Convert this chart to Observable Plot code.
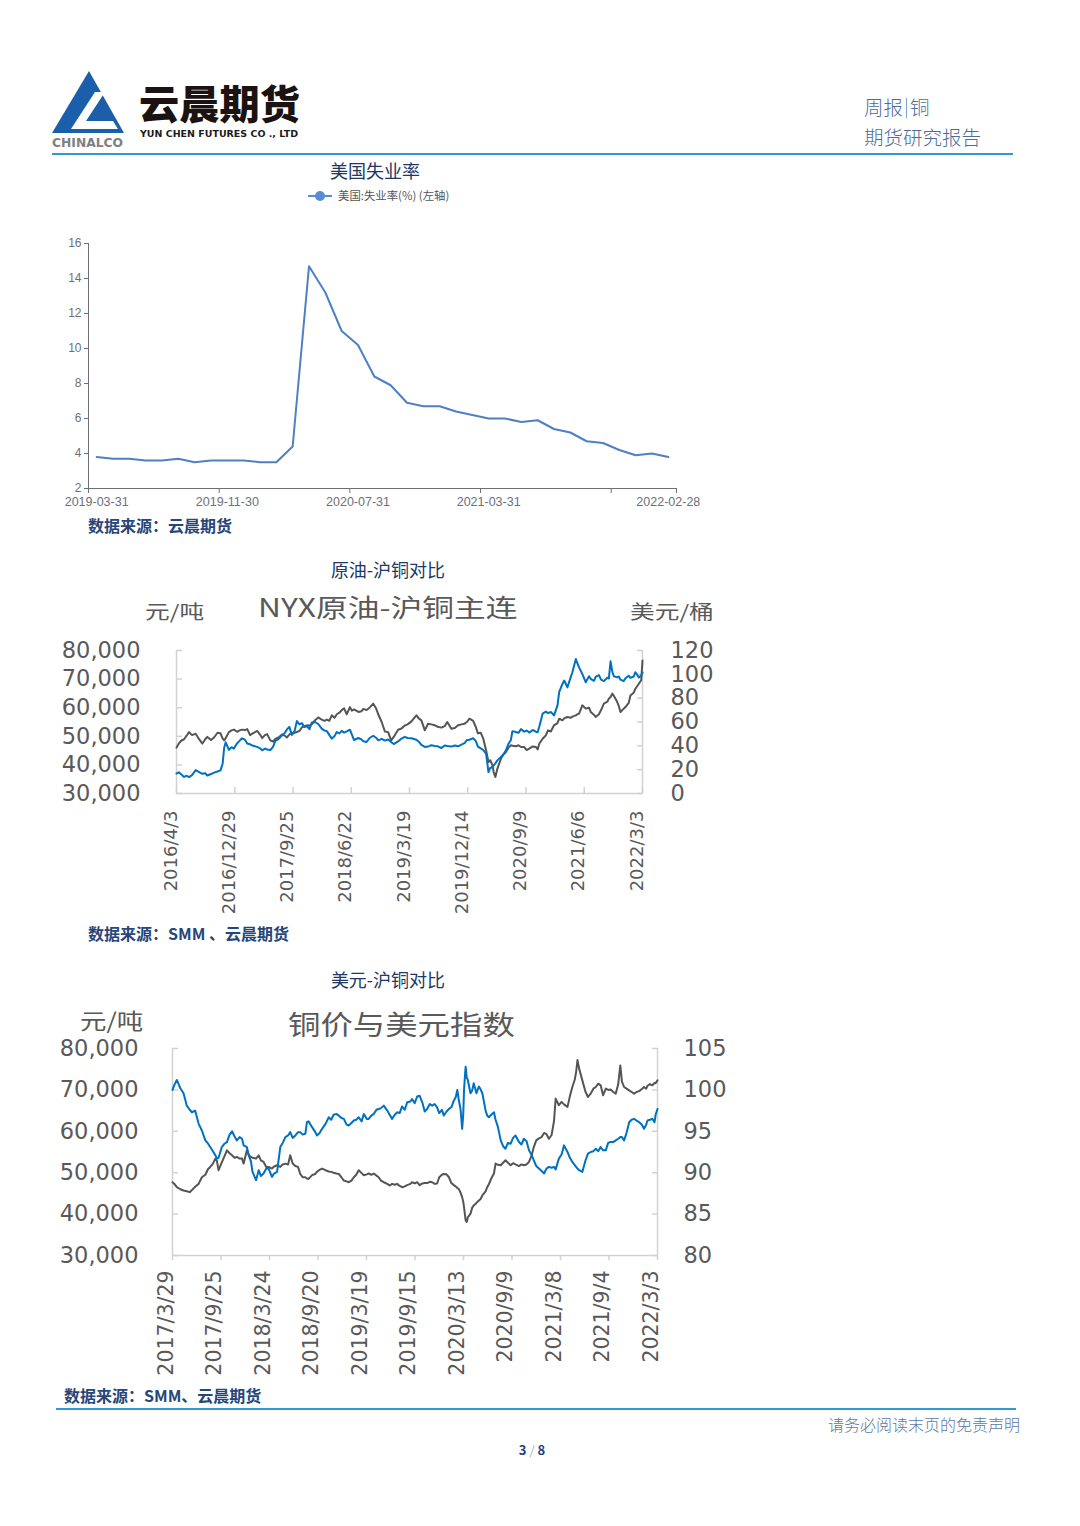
<!DOCTYPE html>
<html><head><meta charset="utf-8">
<script src="https://cdn.jsdelivr.net/npm/d3@7"></script>
<script src="https://cdn.jsdelivr.net/npm/@observablehq/plot@0.6"></script>
<style>
html,body{margin:0;padding:0;background:#fff;}
#page{position:relative;width:1080px;height:1526px;overflow:hidden;font-family:"Noto Sans CJK SC","Noto Sans",sans-serif;background:#fff;}
.a{position:absolute;white-space:nowrap;line-height:1;z-index:2;}
.plot{position:absolute;left:0;z-index:1;}
.ttl{color:#203864;font-size:18px;text-align:center;width:300px;}
.src{color:#26467a;font-size:16px;font-weight:700;}
.gt{color:#595959;transform-origin:left top;}
.rule{position:absolute;height:2px;background:#3399d6;z-index:2;}
</style></head><body><div id="page">
<svg class="a" style="left:0;top:0" width="1080" height="160">
 <polygon points="89,71 124,133 52,133" fill="#1b5fab"/>
 <polygon points="95,92 105,92 86,121 113,121 118,129 71,129" fill="#fff"/>
 <text x="52" y="147" textLength="71" lengthAdjust="spacingAndGlyphs" font-family="DejaVu Sans" font-weight="bold" font-size="12" fill="#808080">CHINALCO</text>
 <text x="139" y="119" textLength="161" lengthAdjust="spacingAndGlyphs" font-family="Noto Sans CJK SC" font-weight="900" font-size="40" fill="#1a1311">云晨期货</text>
 <text x="140" y="137" textLength="158" lengthAdjust="spacingAndGlyphs" font-family="DejaVu Sans" font-weight="bold" font-size="9.5" fill="#1a1a1a">YUN CHEN FUTURES CO ., LTD</text>
</svg>
<div class="rule" style="left:52px;top:153px;width:961px"></div>
<div class="rule" style="left:56px;top:1408px;width:960px"></div>
<div class="a" style="left:864px;top:97px;font-size:19.5px;color:#4d6c99;font-weight:300">周报<span style="display:inline-block;width:1px;height:20px;background:#7aa0d0;margin:0 3px;vertical-align:-3px"></span>铜</div>
<div class="a" style="left:864px;top:127px;font-size:19.5px;color:#4d6c99;font-weight:300">期货研究报告</div>

<div class="a ttl" style="left:225px;top:161px;">美国失业率</div>
<svg class="a" style="left:307px;top:190px" width="26" height="12"><line x1="1" y1="6" x2="25" y2="6" stroke="#5b8bd0" stroke-width="2"/><circle cx="13" cy="6" r="5" fill="#5b8bd0"/></svg>
<div class="a" style="left:338px;top:190px;font-size:11.4px;color:#555">美国:失业率(%) (左轴)</div>
<div class="a src" style="left:88px;top:517px;">数据来源：云晨期货</div>

<div class="a ttl" style="left:238px;top:560px;">原油-沪铜对比</div>
<div class="a gt" style="left:145px;top:601px;font-size:19px;transform:scaleX(1.3)">元/吨</div>
<div class="a gt" style="left:258px;top:594px;font-size:25px;transform:scaleX(1.27)">NYX原油-沪铜主连</div>
<div class="a gt" style="left:630px;top:601px;font-size:19px;transform:scaleX(1.3)">美元/桶</div>
<div class="a src" style="left:88px;top:925px;">数据来源：SMM 、云晨期货</div>

<div class="a ttl" style="left:238px;top:970px;">美元-沪铜对比</div>
<div class="a gt" style="left:80px;top:1008px;font-size:22px;transform:scaleX(1.2)">元/吨</div>
<div class="a gt" style="left:288px;top:1010px;font-size:27px;transform:scaleX(1.2)">铜价与美元指数</div>
<div class="a src" style="left:64px;top:1387px;">数据来源：SMM、云晨期货</div>

<div class="a" style="left:720px;width:300px;text-align:right;top:1416px;font-size:16px;color:#5a79a5;font-weight:300">请务必阅读末页的免责声明</div>
<div class="a" style="left:482px;width:100px;text-align:center;top:1443px;font-size:13px;color:#1f3f7f;font-weight:700">3 <span style="font-weight:300;color:#7f8fb0">/</span> 8</div>

<div id="c1" class="plot" style="top:230px"></div>
<div id="c2" class="plot" style="top:600px"></div>
<div id="c3" class="plot" style="top:1000px"></div>
</div>
<script>
// ---------- Chart 1: US unemployment rate ----------
const c1Dates = ["2019-03-31","2019-04-30","2019-05-31","2019-06-30","2019-07-31","2019-08-31","2019-09-30","2019-10-31","2019-11-30","2019-12-31",
"2020-01-31","2020-02-29","2020-03-31","2020-04-30","2020-05-31","2020-06-30","2020-07-31","2020-08-31","2020-09-30","2020-10-31","2020-11-30","2020-12-31",
"2021-01-31","2021-02-28","2021-03-31","2021-04-30","2021-05-31","2021-06-30","2021-07-31","2021-08-31","2021-09-30","2021-10-31","2021-11-30","2021-12-31",
"2022-01-31","2022-02-28"];
const c1Values = [3.8,3.7,3.7,3.6,3.6,3.7,3.5,3.6,3.6,3.6,
3.5,3.5,4.4,14.7,13.2,11.0,10.2,8.4,7.9,6.9,6.7,6.7,
6.4,6.2,6.0,6.0,5.8,5.9,5.4,5.2,4.7,4.6,4.2,3.9,
4.0,3.8];
const c1YTicks = [2,4,6,8,10,12,14,16];
const c1XLabels = ["2019-03-31","2019-11-30","2020-07-31","2021-03-31","2022-02-28"];

// ---------- Chart 2: NYX crude oil vs SHFE copper ----------
const c2Dates = ["2016-04-03","2016-04-14","2016-04-26","2016-05-08","2016-05-20","2016-05-31","2016-06-14","2016-07-01","2016-07-15","2016-08-01",
"2016-08-14","2016-08-24","2016-09-10","2016-09-24","2016-10-10","2016-10-24","2016-11-03","2016-11-10","2016-11-17","2016-12-02",
"2016-12-14","2016-12-25","2017-01-09","2017-01-20","2017-02-01","2017-02-14","2017-02-25","2017-03-10","2017-03-20","2017-04-12",
"2017-04-25","2017-05-05","2017-05-18","2017-05-28","2017-06-12","2017-06-25","2017-07-05","2017-07-20","2017-08-05","2017-08-18",
"2017-08-28","2017-09-08","2017-09-20","2017-10-02","2017-10-13","2017-10-25","2017-11-05","2017-11-17","2017-11-28","2017-12-10",
"2017-12-21","2018-01-05","2018-01-20","2018-02-05","2018-02-18","2018-03-01","2018-03-12","2018-03-24","2018-04-05","2018-04-16",
"2018-04-28","2018-05-09","2018-05-20","2018-06-01","2018-06-16","2018-06-25","2018-07-05","2018-07-25","2018-08-08","2018-08-17",
"2018-09-01","2018-09-15","2018-10-02","2018-10-15","2018-10-25","2018-11-10","2018-11-25","2018-12-10","2018-12-24","2019-01-05",
"2019-01-25","2019-02-10","2019-02-25","2019-03-10","2019-03-28","2019-04-20","2019-05-01","2019-05-13","2019-05-29","2019-06-13",
"2019-06-28","2019-07-14","2019-07-28","2019-08-14","2019-08-29","2019-09-10","2019-09-29","2019-10-15","2019-10-30","2019-11-15",
"2019-11-29","2019-12-10","2019-12-22","2020-01-08","2020-01-20","2020-01-30","2020-02-12","2020-02-24","2020-03-08","2020-03-19",
"2020-03-27","2020-04-06","2020-04-12","2020-04-20","2020-04-28","2020-05-16","2020-05-28","2020-06-08","2020-06-20","2020-07-01",
"2020-07-08","2020-07-24","2020-08-05","2020-08-17","2020-09-01","2020-09-12","2020-09-24","2020-10-10","2020-10-25","2020-11-02",
"2020-11-10","2020-11-25","2020-12-10","2020-12-20","2021-01-02","2021-01-17","2021-02-02","2021-02-10","2021-02-25","2021-03-05",
"2021-03-20","2021-04-04","2021-04-12","2021-04-28","2021-05-05","2021-05-13","2021-05-28","2021-06-13","2021-06-28","2021-07-06",
"2021-07-21","2021-07-29","2021-08-13","2021-08-23","2021-09-05","2021-09-21","2021-09-28","2021-10-06","2021-10-14","2021-10-21",
"2021-11-06","2021-11-13","2021-11-21","2021-12-06","2021-12-14","2021-12-29","2022-01-06","2022-01-21","2022-01-29","2022-02-06",
"2022-02-14","2022-02-25","2022-03-03"];
const c2Copper = [37000,37400,36600,35800,36200,35700,36400,38200,37600,36900,
37100,36300,36800,37300,37700,38100,40500,46000,47900,45300,
46200,45700,47600,48400,49300,48800,47500,47200,46800,46300,
45800,45100,45700,45400,45200,46400,48400,49000,50300,51200,
52400,53300,50500,51800,55300,54200,54600,53200,53600,52500,
54800,55000,54300,52700,52000,51800,50500,49200,50000,51500,
51000,51900,51300,51700,52300,50600,48700,49400,48900,48300,
48000,49400,50200,49500,48600,49100,48500,48900,48000,47300,
48200,49200,49800,49400,49300,48800,48100,47000,46300,46400,
46900,46600,46500,45900,46800,46600,46400,46800,46500,47100,
47600,48700,48800,49300,48400,46400,45800,45200,43900,37500,
38900,39200,39800,40500,41500,42800,43700,45100,47400,48700,
51800,51500,51200,52500,51600,52000,51300,52200,51600,51400,
53500,57900,58600,58100,58500,57300,60800,65500,68300,69500,
67100,70600,72400,77000,75600,74100,71800,68900,71000,70100,
69400,70800,71400,69800,69300,70500,70200,76200,72600,71000,
70600,70900,69800,69300,70300,71200,70400,70900,72400,71500,
70600,71200,72300];
const c2Oil = [38.5,42.0,44.5,45.5,48.5,51.5,49.0,50.2,46.0,41.9,
45.5,47.5,44.8,47.0,51.0,50.5,46.0,44.6,46.5,51.5,
53.0,53.6,51.8,53.0,53.6,53.2,54.0,49.0,50.2,52.5,
49.5,46.5,49.0,49.8,44.6,43.5,45.8,47.0,49.5,48.5,
47.0,49.5,50.5,51.0,51.6,52.5,55.5,56.5,57.2,57.0,
58.0,61.5,63.8,62.0,61.0,62.0,61.0,65.6,63.5,66.5,
67.8,70.0,71.5,66.5,72.5,69.5,70.5,68.4,69.0,71.0,
70.0,72.0,75.4,71.5,66.5,60.0,52.0,51.5,44.6,47.5,
53.5,54.5,57.0,58.0,60.5,65.6,63.0,61.4,53.0,58.5,
58.0,57.2,56.0,55.3,56.5,60.0,54.4,55.0,57.2,58.0,
58.6,60.0,62.8,61.0,56.0,50.5,51.0,46.0,36.3,26.5,
27.9,24.0,18.0,13.9,20.0,29.3,33.0,34.8,38.5,40.5,
40.0,39.6,40.5,39.0,39.0,36.5,37.7,39.5,39.0,37.0,
41.9,46.0,48.8,53.0,52.0,57.2,59.0,62.8,61.4,63.0,
64.2,63.5,64.5,65.6,66.5,67.0,74.0,71.2,72.0,68.4,
66.0,64.2,66.5,70.0,75.4,77.0,79.6,81.0,83.8,82.0,
76.7,73.5,68.4,71.2,72.5,76.0,82.3,84.5,87.9,90.0,
92.1,95.0,111.6];
const c2LeftTicks = [30000,40000,50000,60000,70000,80000];
const c2RightTicks = [0,20,40,60,80,100,120];
const c2XLabels = ["2016/4/3","2016/12/29","2017/9/25","2018/6/22","2019/3/19","2019/12/14","2020/9/9","2021/6/6","2022/3/3"];

// ---------- Chart 3: copper vs US dollar index ----------
const c3Dates = ["2017-03-29","2017-04-05","2017-04-14","2017-04-27","2017-05-09","2017-05-21","2017-06-01","2017-06-09","2017-06-21","2017-07-04",
"2017-07-16","2017-07-29","2017-08-08","2017-08-16","2017-08-26","2017-09-04","2017-09-10","2017-09-16","2017-09-28","2017-10-08",
"2017-10-17","2017-10-27","2017-11-05","2017-11-14","2017-11-23","2017-12-03","2017-12-12","2017-12-18","2017-12-30","2018-01-06",
"2018-01-14","2018-01-20","2018-02-02","2018-02-12","2018-02-20","2018-03-02","2018-03-12","2018-03-21","2018-04-02","2018-04-10",
"2018-04-21","2018-05-03","2018-05-12","2018-05-22","2018-06-01","2018-06-09","2018-06-18","2018-06-28","2018-07-08","2018-07-16",
"2018-07-25","2018-08-04","2018-08-10","2018-08-16","2018-08-29","2018-09-10","2018-09-16","2018-09-26","2018-10-05","2018-10-18",
"2018-10-30","2018-11-08","2018-11-17","2018-11-27","2018-12-06","2018-12-16","2018-12-25","2019-01-04","2019-01-12","2019-01-22",
"2019-01-31","2019-02-09","2019-02-18","2019-03-01","2019-03-09","2019-03-20","2019-03-27","2019-04-06","2019-04-15","2019-04-25",
"2019-05-03","2019-05-12","2019-05-22","2019-06-04","2019-06-13","2019-06-22","2019-07-02","2019-07-11","2019-07-20","2019-07-29",
"2019-08-08","2019-08-17","2019-08-29","2019-09-04","2019-09-14","2019-09-23","2019-10-02","2019-10-12","2019-10-21","2019-10-30",
"2019-11-09","2019-11-18","2019-11-27","2019-12-06","2019-12-14","2019-12-24","2019-12-31","2020-01-10","2020-01-19","2020-01-28",
"2020-02-06","2020-02-13","2020-02-19","2020-02-24","2020-03-02","2020-03-08","2020-03-12","2020-03-15","2020-03-19","2020-03-21",
"2020-03-25","2020-03-29","2020-04-08","2020-04-14","2020-04-20","2020-04-30","2020-05-09","2020-05-15","2020-05-22","2020-06-03",
"2020-06-09","2020-06-15","2020-06-24","2020-07-04","2020-07-10","2020-07-19","2020-07-29","2020-08-07","2020-08-16","2020-08-25",
"2020-09-04","2020-09-13","2020-09-22","2020-10-05","2020-10-14","2020-10-23","2020-11-02","2020-11-11","2020-11-20","2020-11-29",
"2020-12-08","2020-12-18","2020-12-28","2021-01-06","2021-01-15","2021-01-24","2021-02-03","2021-02-12","2021-02-18","2021-03-02",
"2021-03-12","2021-03-21","2021-04-03","2021-04-12","2021-04-21","2021-04-30","2021-05-05","2021-05-10","2021-05-16","2021-05-28",
"2021-06-09","2021-06-18","2021-06-28","2021-07-08","2021-07-17","2021-07-26","2021-08-04","2021-08-13","2021-08-23","2021-09-01",
"2021-09-10","2021-09-20","2021-09-29","2021-10-08","2021-10-16","2021-10-22","2021-10-30","2021-11-08","2021-11-18","2021-11-27",
"2021-12-06","2021-12-15","2021-12-25","2022-01-04","2022-01-12","2022-01-20","2022-01-25","2022-02-03","2022-02-12","2022-02-20",
"2022-02-24","2022-03-03"];
const c3Copper = [47700,47300,46500,46000,45700,45500,45300,45800,46600,47300,
48900,49500,50900,51400,52200,53400,52800,50600,52500,54000,
55400,54700,54200,53600,53800,53400,53400,52200,55400,54300,
53800,53600,53400,54200,53000,52600,51400,51400,51000,51500,
51800,51400,52000,52200,52000,54200,52200,51600,51400,49700,
48900,48900,48600,48500,49400,49700,50200,50700,51000,50600,
50300,50200,50000,49800,49700,48900,48100,47900,47700,48100,
48900,49500,50600,49900,49400,49600,49800,49500,49800,49300,
48900,48100,47700,47300,46900,47300,47100,47300,46800,46500,
46700,47000,47300,47700,47400,47700,47000,47400,47500,47500,
47800,47700,47300,47400,48900,49500,49700,49600,48900,47500,
47000,46700,46300,46100,45200,44100,43000,41700,39500,38500,
38100,39200,40100,41500,42100,42700,43300,43600,44500,45500,
46500,47200,48600,49800,52200,51900,51800,52400,53000,52400,
51800,52300,52000,51600,52000,51800,52000,52600,54000,56200,
57800,58300,58600,59600,59300,58200,59100,62500,67900,66300,
67100,66500,65900,68500,70700,72500,74300,77200,75200,72300,
69500,68300,69100,70300,70700,71500,71100,68700,70300,70000,
70100,69500,69100,71300,75900,72000,70700,70300,69900,69500,
69100,69500,69700,70200,70700,70300,71000,71400,71100,71700,
71600,72300];
const c3Dxy = [100.0,100.6,101.2,100.2,99.6,98.1,97.6,97.3,97.5,95.9,
95.1,93.9,93.5,93.1,92.6,92.1,91.7,91.8,93.1,93.5,
93.7,94.6,95.0,94.4,93.9,94.3,94.1,93.3,93.1,92.1,
91.4,90.1,89.1,90.3,89.6,89.9,90.5,90.5,89.5,89.9,
90.1,93.1,93.6,94.3,94.5,94.9,94.2,94.5,94.9,94.9,
94.6,94.7,96.1,96.2,95.5,94.9,94.5,94.8,95.3,95.9,
96.7,96.4,97.0,97.1,96.9,96.6,96.5,95.8,95.7,96.0,
96.3,96.4,96.7,96.2,97.1,96.5,96.5,96.9,97.1,97.6,
97.7,97.8,98.1,97.5,97.0,96.5,97.0,97.3,97.2,98.0,
97.6,98.5,98.6,98.9,98.4,99.2,99.3,98.5,97.4,97.7,
98.3,98.1,98.3,97.9,97.2,97.6,96.9,97.4,97.7,97.9,
98.7,99.1,100.0,98.9,97.7,95.3,97.0,100.0,102.0,102.8,
101.5,101.2,99.6,99.9,100.8,99.6,100.4,100.1,99.6,97.5,
96.9,96.7,97.0,97.3,96.4,95.5,93.9,93.2,92.9,93.6,
93.5,94.2,94.5,93.7,93.4,94.1,93.8,92.7,92.2,91.5,
90.8,90.5,90.2,89.9,90.5,90.7,90.6,90.7,90.4,91.7,
92.2,93.3,92.5,91.8,91.3,90.9,90.7,90.5,90.3,90.1,
91.5,92.3,92.5,92.6,92.9,92.6,93.1,92.7,92.7,93.6,
93.7,93.7,93.9,94.1,94.3,94.3,93.9,94.8,96.1,96.4,
96.5,96.3,96.1,95.8,95.3,95.8,96.3,96.4,96.5,96.1,
97.0,97.7];
const c3LeftTicks = [30000,40000,50000,60000,70000,80000];
const c3RightTicks = [80,85,90,95,100,105];
const c3XLabels = ["2017/3/29","2017/9/25","2018/3/24","2018/9/20","2019/3/19","2019/9/15","2020/3/13","2020/9/9","2021/3/8","2021/9/4","2022/3/3"];

// ---------- helpers ----------
const parse = s => { const [y,m,d] = s.split(/[-\/]/).map(Number); return new Date(Date.UTC(y, m-1, d)); };
const fmt = d3.format(",");
const AX = "#d2d2d2", TX = "#595959";

// ---------- Chart 1 render ----------
{
  const data = c1Dates.map((d,i) => ({i, v: c1Values[i]}));
  const n = c1Dates.length;
  const step = c1Dates.indexOf(c1XLabels[1]) - c1Dates.indexOf(c1XLabels[0]);
  const bounds = d3.range(-0.5, n - 1, step).concat([n - 0.5]);
  const plot = Plot.plot({
    width: 1080, height: 290, marginLeft: 88, marginRight: 404, marginTop: 13, marginBottom: 32,
    x: {domain: [-0.5, n - 0.5]},
    y: {domain: [c1YTicks[0], c1YTicks.at(-1)]},
    style: {background: "transparent", fontFamily: "Liberation Sans, Arial, sans-serif", color: "#6e7079"},
    marks: [
      Plot.ruleX([-0.5], {stroke: "#6e7079"}),
      Plot.ruleY([c1YTicks[0]], {stroke: "#6e7079"}),
      Plot.axisY({ticks: c1YTicks, tickSize: 4, tickPadding: 3, fontSize: 12, label: null}),
      Plot.axisX({ticks: bounds, tickSize: 5, tickFormat: () => "", label: null}),
      Plot.line(data, {x: "i", y: "v", stroke: "#4f7fc4", strokeWidth: 2}),
      Plot.text(c1XLabels, {x: d => c1Dates.indexOf(d), text: d => d, frameAnchor: "bottom", dy: 17, fontSize: 12.5, fill: "#6e7079"})
    ]
  });
  document.getElementById("c1").appendChild(plot);
}

// ---------- Chart 2 render ----------
{
  const L = c2LeftTicks, R = c2RightTicks;
  const toLeft = v => L[0] + (v - R[0]) / (R.at(-1) - R[0]) * (L.at(-1) - L[0]);
  const data = c2Dates.map((d,i) => ({date: parse(d), cu: c2Copper[i], oil: c2Oil[i]}));
  const xt = c2XLabels.map(parse);
  const plot = Plot.plot({
    width: 1080, height: 330, marginLeft: 176, marginRight: 438, marginTop: 50, marginBottom: 137,
    x: {type: "utc", domain: [xt[0], xt.at(-1)]},
    y: {domain: [L[0], L.at(-1)]},
    style: {background: "transparent", fontFamily: "DejaVu Sans, sans-serif", color: TX},
    marks: [
      Plot.ruleX([xt[0], xt.at(-1)], {stroke: AX, strokeWidth: 1.5}),
      Plot.ruleY([L[0]], {stroke: AX, strokeWidth: 1.5}),
      Plot.axisY({ticks: L, tickSize: 6, dx: 6, tickFormat: () => "", stroke: AX, strokeWidth: 1.5, label: null}),
      Plot.axisY({anchor: "right", ticks: R.map(toLeft), tickSize: 6, dx: -6, tickFormat: () => "", stroke: AX, strokeWidth: 1.5, label: null}),
      Plot.axisX({ticks: xt, tickSize: 6, dy: -6, tickFormat: () => "", stroke: AX, strokeWidth: 1.5, label: null}),
      Plot.line(data, {x: "date", y: d => toLeft(d.oil), stroke: "#555555", strokeWidth: 2}),
      Plot.line(data, {x: "date", y: "cu", stroke: "#0070c0", strokeWidth: 2}),
      Plot.text(L, {y: d => d, text: d => fmt(d), frameAnchor: "left", textAnchor: "end", dx: -36, fontSize: 22.5, fill: TX}),
      Plot.text(R, {y: d => toLeft(d), text: d => String(d), frameAnchor: "right", textAnchor: "start", dx: 28, fontSize: 22.5, fill: TX}),
      Plot.text(c2XLabels, {x: d => parse(d), text: d => d, frameAnchor: "bottom", rotate: -90, textAnchor: "end", dy: 17, fontSize: 18, fill: TX})
    ]
  });
  document.getElementById("c2").appendChild(plot);
}

// ---------- Chart 3 render ----------
{
  const L = c3LeftTicks, R = c3RightTicks;
  const toLeft = v => L[0] + (v - R[0]) / (R.at(-1) - R[0]) * (L.at(-1) - L[0]);
  const data = c3Dates.map((d,i) => ({date: parse(d), cu: c3Copper[i], dxy: c3Dxy[i]}));
  const xt = c3XLabels.map(parse);
  const plot = Plot.plot({
    width: 1080, height: 400, marginLeft: 172, marginRight: 423, marginTop: 48, marginBottom: 145,
    x: {type: "utc", domain: [xt[0], xt.at(-1)]},
    y: {domain: [L[0], L.at(-1)]},
    style: {background: "transparent", fontFamily: "DejaVu Sans, sans-serif", color: TX},
    marks: [
      Plot.ruleX([xt[0], xt.at(-1)], {stroke: AX, strokeWidth: 1.5}),
      Plot.ruleY([L[0]], {stroke: AX, strokeWidth: 1.5}),
      Plot.axisY({ticks: L, tickSize: 6, dx: 6, tickFormat: () => "", stroke: AX, strokeWidth: 1.5, label: null}),
      Plot.axisY({anchor: "right", ticks: R.map(toLeft), tickSize: 6, dx: -6, tickFormat: () => "", stroke: AX, strokeWidth: 1.5, label: null}),
      Plot.axisX({ticks: xt, tickSize: 5, tickFormat: () => "", stroke: AX, strokeWidth: 1.5, label: null}),
      Plot.line(data, {x: "date", y: "cu", stroke: "#555555", strokeWidth: 2}),
      Plot.line(data, {x: "date", y: d => toLeft(d.dxy), stroke: "#0070c0", strokeWidth: 2}),
      Plot.text(L, {y: d => d, text: d => fmt(d), frameAnchor: "left", textAnchor: "end", dx: -34, fontSize: 22.5, fill: TX}),
      Plot.text(R, {y: d => toLeft(d), text: d => String(d), frameAnchor: "right", textAnchor: "start", dx: 26, fontSize: 22.5, fill: TX}),
      Plot.text(c3XLabels, {x: d => parse(d), text: d => d, frameAnchor: "bottom", rotate: -90, textAnchor: "end", dy: 15, fontSize: 20.5, fill: TX})
    ]
  });
  document.getElementById("c3").appendChild(plot);
}
</script></body></html>
